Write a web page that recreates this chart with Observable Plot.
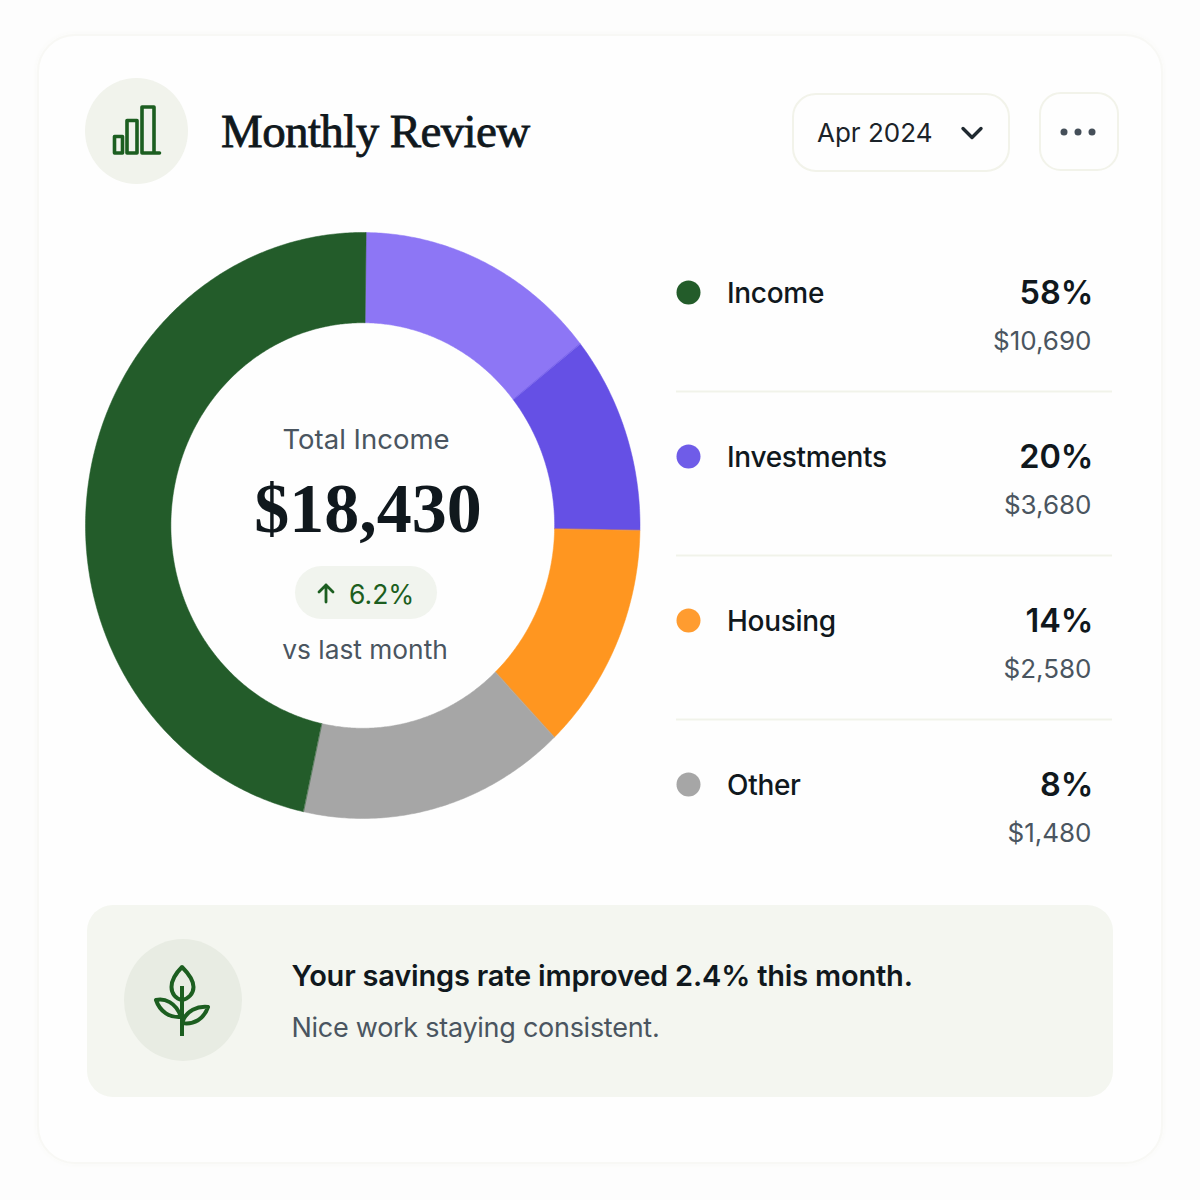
<!DOCTYPE html>
<html>
<head>
<meta charset="utf-8">
<script src="https://cdn.jsdelivr.net/npm/d3@7"></script>
<script src="https://cdn.jsdelivr.net/npm/@observablehq/plot@0.6"></script>
<style>
html,body{margin:0;padding:0;background:#fdfdfd;}
#page{position:relative;width:1200px;height:1200px;overflow:hidden;font-family:Inter,"Noto Sans",sans-serif;color:#10181d;}
#page>*{position:absolute;}
#page svg{background:transparent;}
.t{white-space:nowrap;line-height:1;}
.muted{color:#4a5560;}
.serif{font-family:"Liberation Serif",serif;}
#legend g[font-size="28"]{letter-spacing:-0.3px;}
</style>
</head>
<body>
<div id="page">
  <div style="left:37px;top:34px;width:1122px;height:1126px;border:2px solid #f8f8f5;border-radius:38px;background:#fefefe;box-shadow:0 0 6px #f9f9f6;"></div>
  <div style="left:85px;top:78px;width:103px;height:106px;border-radius:50%;background:#f1f3ec;"></div>
  <svg style="left:85px;top:78px;" width="103" height="106" viewBox="85 78 103 106" fill="none" stroke="#1c5e20" stroke-width="3.600" stroke-linejoin="round" stroke-linecap="round">
    <path d="M114.500 136.500h8v16.500h-8zM127 120.500h10v32.500h-10zM142 107h12v46h-12zM154 153h5.500"/>
  </svg>
  <div class="t serif" id="title" style="left:221px;top:108px;font-size:47px;letter-spacing:-0.62px;-webkit-text-stroke:.8px #10181d;">Monthly Review</div>
  <div style="left:792px;top:93px;width:214px;height:75px;border:2px solid #f2f3ea;border-radius:24px;"></div>
  <div class="t" style="left:817px;top:120px;font-size:26px;color:#1b2329;">Apr 2024</div>
  <svg style="left:958px;top:122px;" width="28" height="22" fill="none" stroke="#1f2930" stroke-width="3.400" stroke-linecap="round" stroke-linejoin="round"><path d="M5 6.500l9 9 9-9"/></svg>
  <div style="left:1039px;top:92px;width:76px;height:75px;border:2px solid #f2f3ea;border-radius:22px;"></div>
  <svg style="left:1055px;top:120px;" width="46" height="24" fill="#454f59"><circle cx="9" cy="12" r="3.500"/><circle cx="23" cy="12" r="3.500"/><circle cx="37" cy="12" r="3.500"/></svg>

  <div id="donut" style="left:0;top:0;"></div>
  <div id="legend" style="left:0;top:0;"></div>

  <div class="t muted" style="left:166px;width:400px;text-align:center;top:426px;font-size:27.500px;">Total Income</div>
  <div class="t serif" style="left:168px;width:400px;text-align:center;top:474px;font-size:70px;font-weight:700;">$18,430</div>
  <div style="left:295px;top:566px;width:142px;height:53px;border-radius:27px;background:#f1f4ee;"></div>
  <svg style="left:314px;top:581px;" width="24" height="24" fill="none" stroke="#1c5e20" stroke-width="2.800" stroke-linecap="round" stroke-linejoin="round"><path d="M12 21V4M5 11l7-7 7 7"/></svg>
  <div class="t" style="left:349px;top:581px;font-size:26.500px;color:#1c5e20;">6.2%</div>
  <div class="t muted" style="left:165px;width:400px;text-align:center;top:637px;font-size:26.300px;">vs last month</div>

  <div style="left:87px;top:905px;width:1026px;height:192px;border-radius:26px;background:#f4f6f0;"></div>
  <div style="left:124px;top:939px;width:118px;height:122px;border-radius:50%;background:#e8ece3;"></div>
  <svg style="left:124px;top:939px;" width="118" height="122" viewBox="124 939 118 122" fill="none" stroke="#1c5e20" stroke-width="4" stroke-linejoin="round" stroke-linecap="butt">
    <path d="M182 967C175 974 171.500 980 171.500 987C171.500 994 176 999 182 1000C188 999 193.500 994 193.500 987C193.500 980 189 974 182 967Z"/>
    <path d="M182 986V1036"/>
    <path d="M156 1000C164 998 176 1002 181 1017C170 1018 160 1012 156 1000Z"/>
    <path d="M208 1007C198 1006 186 1010 182 1023C194 1025 204 1019 208 1007Z"/>
  </svg>
  <div class="t" id="msg" style="left:291.500px;top:961px;font-size:29px;font-weight:600;letter-spacing:-0.2px;">Your savings rate improved 2.4% this month.</div>
  <div class="t muted" id="sub" style="left:291.500px;top:1014px;font-size:27px;letter-spacing:-0.27px;">Nice work staying consistent.</div>
</div>
<script>
// Donut slices (degrees of arc, clockwise from just past 12 o'clock)
const sliceNames = ["Slice 1", "Slice 2", "Slice 3", "Slice 4", "Slice 5"];
const sliceDegrees = [51.0, 39.3, 45.3, 56.1, 168.3];
const sliceColors = ["#8d76f5", "#6550e5", "#ff9620", "#a6a6a6", "#235c2a"];
const startDegree = 0.7;
const holeRatio = 0.692;

// Legend rows
const rowNames = ["Income", "Investments", "Housing", "Other"];
const rowPercents = ["58%", "20%", "14%", "8%"];
const rowAmounts = ["$10,690", "$3,680", "$2,580", "$1,480"];
const rowColors = ["#235c2a", "#6f5ce8", "#ff9c30", "#a6a6a6"];

// Build the ring outlines from the slice values
const ring = [];
let start = startDegree;
sliceNames.forEach((name, i) => {
  const end = start + sliceDegrees[i];
  const arc = d3.range(start, end, 0.5).concat(end);
  for (const a of arc) ring.push({name, a, r: 1});
  for (const a of arc.slice().reverse()) ring.push({name, a, r: holeRatio});
  start = end;
});
const px = d => d.r * Math.sin(d.a * Math.PI / 180);
const py = d => -d.r * Math.cos(d.a * Math.PI / 180);

const donut = Plot.plot({
  width: 1200, height: 1200, margin: 0,
  style: {background: "transparent"},
  x: {domain: [-1, 1], range: [85, 639.5], axis: null},
  y: {domain: [-1, 1], range: [232, 818], axis: null},
  color: {domain: sliceNames, range: sliceColors},
  marks: [
    Plot.line(ring, {x: px, y: py, z: "name", fill: "name", stroke: "name", strokeWidth: 0.5, curve: "linear-closed"})
  ]
});
document.getElementById("donut").append(donut);

const rows = rowNames.map((name, i) => ({name, pct: rowPercents[i], amt: rowAmounts[i]}));
const legend = Plot.plot({
  width: 1200, height: 1200, margin: 0,
  style: {background: "transparent"},
  x: {type: "identity", axis: null},
  y: {type: "point", domain: rowNames, range: [292, 784], padding: 0, axis: null},
  color: {domain: rowNames, range: rowColors},
  marks: [
    Plot.ruleY(rows.slice(0, 3), {y: "name", x1: 676, x2: 1112, dy: 99, stroke: "#f1f3ea", strokeWidth: 2}),
    Plot.dot(rows, {x: () => 688, y: "name", r: 12, fill: "name"}),
    Plot.text(rows, {x: () => 726.5, y: "name", dy: 2, text: "name", textAnchor: "start", fontSize: 28, fontWeight: 500, fill: "#10181d", fontFamily: "Inter"}),
    Plot.text(rows, {x: () => 1093, y: "name", dy: 1, text: "pct", textAnchor: "end", fontSize: 32.5, fontWeight: 600, fill: "#10181d", fontFamily: "Inter"}),
    Plot.text(rows, {x: () => 1091, y: "name", dy: 49, text: "amt", textAnchor: "end", fontSize: 26, fill: "#4a5560", fontFamily: "Inter"})
  ]
});
document.getElementById("legend").append(legend);
</script>
</body>
</html>
